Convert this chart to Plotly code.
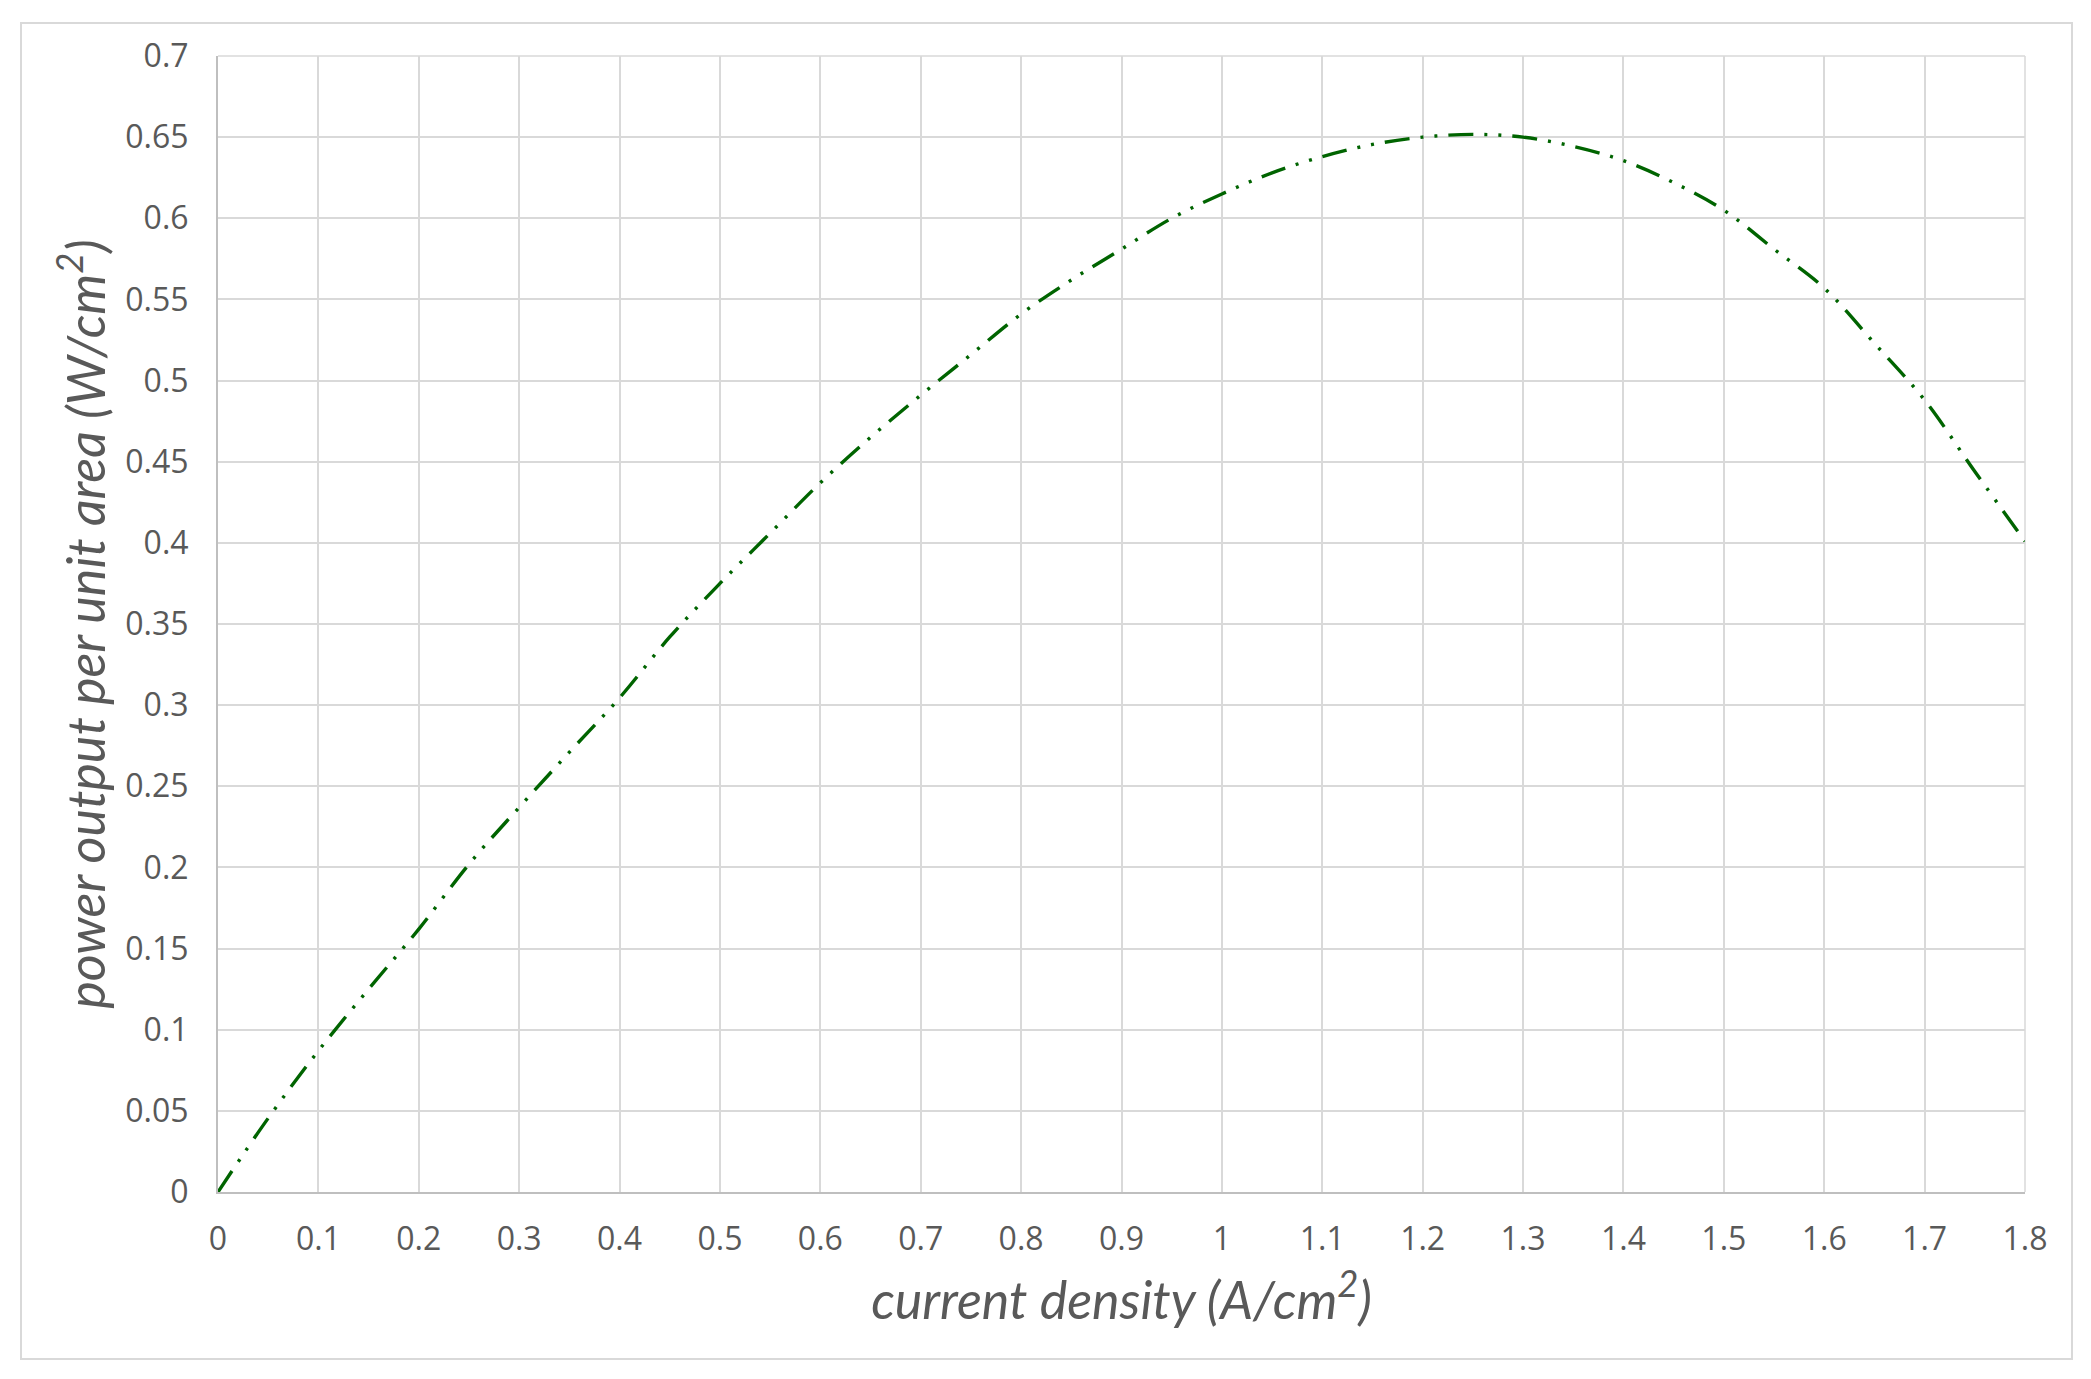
import plotly.graph_objects as go

# current density (A/cm^2)
current_density = [0.0, 0.05, 0.1, 0.15, 0.2, 0.25, 0.3, 0.35, 0.4, 0.45, 0.5, 0.55, 0.6,
                   0.65, 0.7, 0.75, 0.8, 0.85, 0.9, 0.95, 1.0, 1.05, 1.1, 1.15, 1.2,
                   1.25, 1.3, 1.35, 1.4, 1.45, 1.5, 1.55, 1.6, 1.65, 1.7, 1.75, 1.8]
# power output per unit area (W/cm^2)
power_density = [0.0, 0.0455, 0.087, 0.125, 0.162, 0.202, 0.237, 0.271, 0.3045, 0.342,
                 0.375, 0.406, 0.437, 0.465, 0.491, 0.516, 0.541, 0.562, 0.581, 0.6,
                 0.615, 0.628, 0.638, 0.6455, 0.650, 0.6517, 0.650, 0.6443, 0.6355,
                 0.622, 0.605, 0.581, 0.557, 0.523, 0.488, 0.444, 0.401]

x_tickvals = [0, 0.1, 0.2, 0.3, 0.4, 0.5, 0.6, 0.7, 0.8, 0.9, 1.0, 1.1, 1.2, 1.3, 1.4, 1.5, 1.6, 1.7, 1.8]
x_ticktext = ["0", "0.1", "0.2", "0.3", "0.4", "0.5", "0.6", "0.7", "0.8", "0.9", "1",
              "1.1", "1.2", "1.3", "1.4", "1.5", "1.6", "1.7", "1.8"]
y_tickvals = [0, 0.05, 0.1, 0.15, 0.2, 0.25, 0.3, 0.35, 0.4, 0.45, 0.5, 0.55, 0.6, 0.65, 0.7]
y_ticktext = ["0", "0.05", "0.1", "0.15", "0.2", "0.25", "0.3", "0.35", "0.4", "0.45",
              "0.5", "0.55", "0.6", "0.65", "0.7"]

x_title = "current density (A/cm<sup>2</sup>)"
y_title = "power output per unit area (W/cm<sup>2</sup>)"

TEXT = "#595959"
GRID = "#D9D9D9"
AXIS = "#BFBFBF"

fig = go.Figure()
fig.add_trace(go.Scatter(
    x=current_density, y=power_density, mode="lines",
    line=dict(color="#006400", width=3.4, shape="spline",
              dash="25px,11px,3px,11px,3px,11px"),
    showlegend=False, hoverinfo="x+y",
))

# page has an 8px body margin; figure is sized to fit the window
W, H = 2083, 1371
ml, mr, mt, mb = 210, 66, 48, 187
pw, ph = W - ml - mr, H - mt - mb

def px2paper_x(p):
    return (p - ml) / pw

def px2paper_y(p):
    return (H - mb - p) / ph

fig.update_layout(
    width=W, height=H,
    margin=dict(l=ml, r=mr, t=mt, b=mb, pad=0),
    paper_bgcolor="white", plot_bgcolor="white",
    font=dict(family="Open Sans", color=TEXT, size=32),
    xaxis=dict(
        range=[0, 1.8], tickvals=x_tickvals, ticktext=x_ticktext,
        showgrid=True, gridcolor=GRID, gridwidth=1.5,
        showline=True, linecolor=AXIS, linewidth=2, mirror=False,
        zeroline=False, ticks="", ticklabelstandoff=18,
        tickfont=dict(family="Open Sans", size=32, color=TEXT),
        title=dict(text=x_title, standoff=24,
                   font=dict(family="Lato", size=52, color=TEXT, style="italic")),
    ),
    yaxis=dict(
        range=[0, 0.7], tickvals=y_tickvals, ticktext=y_ticktext,
        showgrid=True, gridcolor=GRID, gridwidth=1.5,
        showline=True, linecolor=AXIS, linewidth=2, mirror=False,
        zeroline=False, ticks="", ticklabelstandoff=21,
        tickfont=dict(family="Open Sans", size=32, color=TEXT),
        title=dict(text=y_title, standoff=3,
                   font=dict(family="Lato", size=52, color=TEXT, style="italic")),
    ),
    shapes=[
        dict(type="line", xref="paper", yref="paper", x0=0, x1=1, y0=1, y1=1,
             line=dict(color=GRID, width=1.5), layer="below"),
        dict(type="line", xref="paper", yref="paper", x0=1, x1=1, y0=0, y1=1,
             line=dict(color=GRID, width=1.5), layer="below"),
        dict(type="rect", xref="paper", yref="paper",
             x0=px2paper_x(13), x1=px2paper_x(2064),
             y0=px2paper_y(1351), y1=px2paper_y(15),
             line=dict(color=GRID, width=2), fillcolor="rgba(0,0,0,0)", layer="below"),
    ],
)

fig.write_html("out.html")
